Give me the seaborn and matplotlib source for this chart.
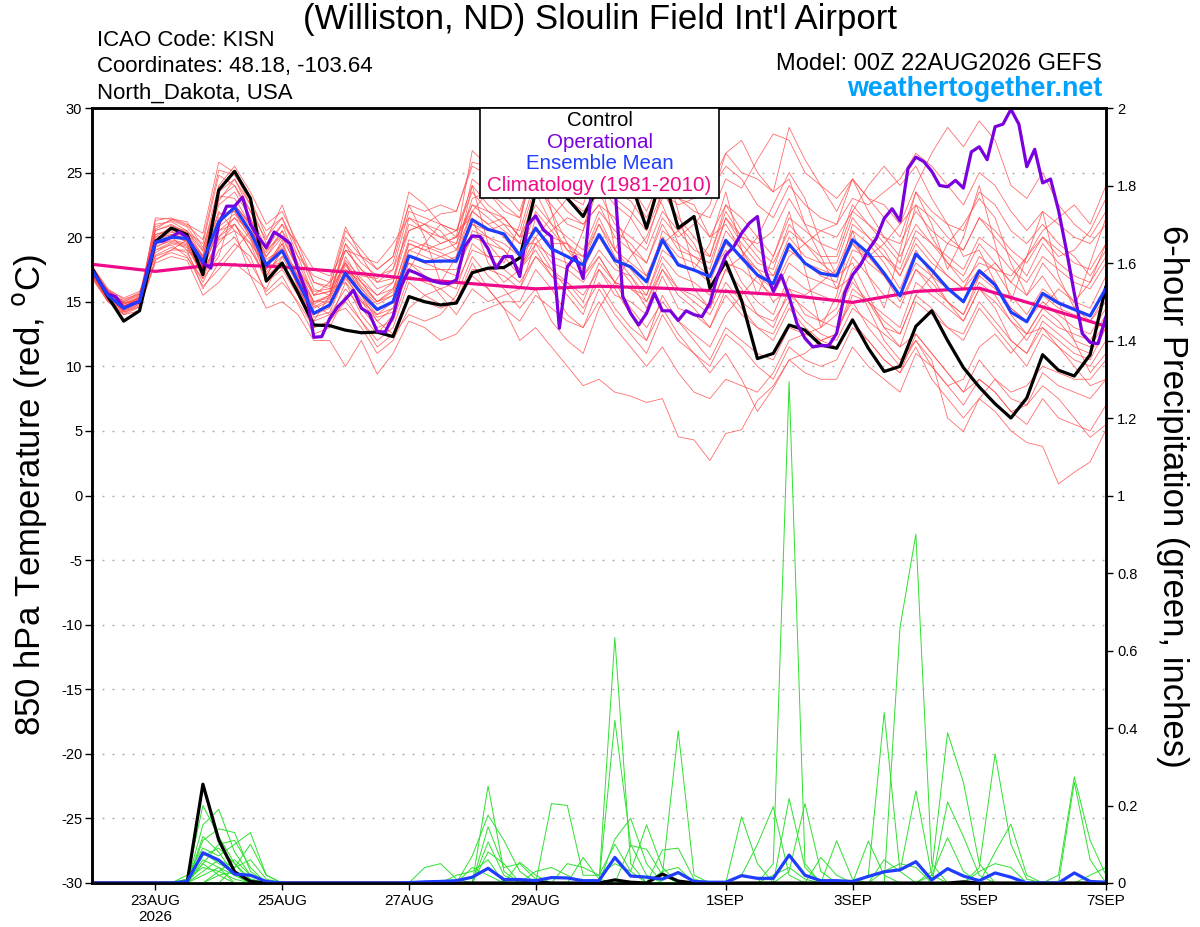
import matplotlib
matplotlib.use("Agg")
import matplotlib.pyplot as plt
import matplotlib.dates as mdates
from matplotlib.patches import Rectangle
import numpy as np
import pandas as pd
import seaborn as sns

sns.set_style("white")
plt.rcParams["font.family"] = ["Liberation Sans", "DejaVu Sans"]
plt.rcParams.update({"text.color": "black", "axes.labelcolor": "black",
                     "xtick.color": "black", "ytick.color": "black"})

# ---------------- text ----------------
TITLE = "(Williston, ND) Sloulin Field Int'l Airport"
INFO_LEFT = ["ICAO Code: KISN", "Coordinates: 48.18, -103.64", "North_Dakota, USA"]
MODEL_TEXT = "Model: 00Z 22AUG2026 GEFS"
SITE_TEXT = "weathertogether.net"
LEGEND_LABELS = ["Control", "Operational", "Ensemble Mean", "Climatology (1981-2010)"]
YLABEL_LEFT = "850 hPa Temperature (red, $^\\mathrm{o}$C)"
YLABEL_RIGHT = "6-hour Precipitation (green, inches)"

RUN_START = "2026-08-22 00:00"
TICK_DATES = ["2026-08-23", "2026-08-25", "2026-08-27", "2026-08-29",
              "2026-09-01", "2026-09-03", "2026-09-05", "2026-09-07"]
TICK_LABELS = ["23AUG\n2026", "25AUG", "27AUG", "29AUG", "1SEP", "3SEP", "5SEP", "7SEP"]
TEMP_TICKS = [-30, -25, -20, -15, -10, -5, 0, 5, 10, 15, 20, 25, 30]
PRECIP_TICKS = [0, 0.2, 0.4, 0.6, 0.8, 1.0, 1.2, 1.4, 1.6, 1.8, 2.0]
PRECIP_TICK_LABELS = ["0", "0.2", "0.4", "0.6", "0.8", "1", "1.2", "1.4", "1.6", "1.8", "2"]

# ---------------- temperature data (6-hourly, 65 steps) ----------------
CONTROL_T = [17.6, 15.4, 13.5, 14.3, 19.65, 20.7, 20.2, 17.1, 23.65, 25.1, 23.0, 16.6,
             18.0, 15.7, 13.2, 13.15, 12.8, 12.6, 12.65, 12.3, 15.4, 15.0, 14.75, 14.9,
             17.25, 17.6, 17.65, 18.4, 23.5, 24.5, 23.0, 21.6, 24.0, 23.5, 24.3, 20.7,
             25.0, 20.7, 21.6, 16.05, 18.1, 15.1, 10.6, 11.0, 13.2, 12.8, 11.65, 11.4,
             13.6, 11.4, 9.6, 10.0, 13.1, 14.3, 12.0, 9.9, 8.4, 7.1, 6.0, 7.55,
             10.9, 9.7, 9.25, 10.9, 16.2]

MEAN_T = [17.45, 15.5, 14.5, 15.05, 19.6, 20.0, 19.9, 18.1, 21.2, 22.3, 20.4, 17.85,
          18.95, 16.55, 14.1, 14.75, 17.2, 15.65, 14.4, 15.0, 18.55, 18.1, 18.15, 18.15,
          21.35, 20.6, 20.25, 18.6, 20.7, 19.1, 18.5, 17.85, 20.2, 18.2, 17.7, 16.55,
          19.8, 17.85, 17.45, 16.95, 19.75, 18.4, 17.07, 16.4, 19.45, 17.98, 17.2, 17.0,
          19.8, 18.75, 17.2, 15.45, 18.7, 17.45, 16.04, 15.0, 17.4, 16.3, 14.2, 13.45,
          15.65, 14.9, 14.4, 13.9, 16.05]

# operational run, 3-hourly (129 steps)
OPER_T = [17.4, 16.5, 15.6, 15.4, 14.5, 14.8, 15.0, 17.5, 19.6, 19.7, 20.0, 20.4,
          20.0, 19.0, 18.0, 17.6, 21.0, 22.4, 22.4, 23.1, 21.0, 20.0, 19.2, 20.4,
          20.0, 19.5, 17.5, 15.8, 12.25, 12.3, 13.7, 14.6, 15.2, 15.9, 14.5, 14.1,
          12.7, 12.65, 13.85, 16.2, 17.45, 17.2, 16.9, 16.6, 16.45, 16.4, 16.7, 19.25,
          20.1, 20.05, 19.1, 17.6, 18.5, 18.5, 16.95, 20.95, 21.65, 20.55, 20.05, 12.95,
          17.7, 18.5, 16.8, 23.4, 25.5, 25.0, 24.0, 15.4, 14.1, 13.2, 14.1, 15.65,
          14.3, 14.3, 13.55, 14.3, 14.0, 13.85, 14.9, 17.07, 18.6, 19.25, 20.3, 21.1,
          21.6, 17.45, 15.8, 17.07, 15.4, 13.3, 12.17, 11.5, 11.6, 11.6, 12.55, 15.65,
          17.07, 17.85, 19.0, 19.9, 21.45, 22.2, 21.25, 25.3, 26.2, 25.85, 25.1, 24.0,
          23.9, 24.4, 23.8, 26.6, 27.0, 26.0, 28.55, 28.75, 29.9, 28.75, 25.45, 26.8,
          24.2, 24.5, 22.1, 19.0, 15.65, 12.55, 11.85, 11.75, 13.85]

# climatology, daily (17 days)
CLIM_T = [17.9, 17.35, 17.9, 17.7, 17.3, 16.8, 16.4, 16.0, 16.2, 16.05, 15.8, 15.5,
          14.95, 15.8, 16.05, 14.6, 13.1]

# ensemble members, 6-hourly
M01 = [17.3, 15.8, 14.9, 15.4, 20.5, 21.0, 20.3, 18.4, 22.8, 24.5, 22.0, 19.0,
       20.1, 17.5, 15.0, 15.3, 18.2, 16.8, 15.5, 16.5, 20.5, 21.0, 21.8, 22.0,
       25.5, 24.8, 23.5, 22.0, 25.8, 24.0, 23.2, 22.5, 26.0, 23.5, 22.8, 21.0,
       25.5, 23.0, 22.0, 21.5, 24.5, 23.8, 26.0, 28.0, 27.5, 25.0, 24.0, 23.0,
       24.5, 23.0, 22.5, 21.0, 24.0, 26.5, 28.5, 27.0, 29.0, 27.5, 24.0, 23.0,
       25.0, 22.5, 21.0, 20.0, 22.0]
M02 = [17.0, 15.2, 14.2, 14.8, 18.8, 19.5, 19.2, 17.0, 20.0, 21.0, 19.5, 16.5,
       17.5, 15.5, 13.0, 13.5, 15.0, 13.5, 12.0, 13.0, 16.5, 15.5, 14.8, 15.0,
       18.0, 16.0, 14.5, 12.0, 13.0, 11.5, 10.0, 8.5, 9.0, 8.0, 7.7, 7.2,
       7.5, 4.55, 4.3, 2.7, 4.8, 5.1, 7.35, 8.5, 10.5, 9.5, 9.0, 9.0,
       11.5, 10.0, 9.0, 8.0, 11.0, 10.0, 8.5, 7.0, 9.0, 8.0, 6.5, 5.5,
       7.5, 6.0, 5.5, 5.0, 7.0]
M03 = [17.6, 15.7, 14.7, 15.2, 19.8, 20.4, 20.0, 18.0, 21.0, 22.5, 20.8, 18.3,
       19.0, 16.8, 14.5, 15.0, 17.0, 15.0, 14.0, 15.0, 18.5, 18.0, 17.5, 17.5,
       20.0, 19.5, 19.0, 17.5, 19.0, 17.0, 16.5, 15.5, 17.5, 15.5, 15.0, 14.0,
       17.0, 14.5, 14.0, 13.0, 16.0, 14.5, 13.0, 12.0, 14.5, 13.0, 12.0, 11.5,
       13.5, 12.0, 10.5, 9.5, 11.5, 9.0, 7.5, 6.0, 7.5, 6.5, 5.0, 4.1,
       3.8, 0.9, 1.8, 2.6, 5.1]
M04 = [17.5, 15.6, 14.4, 15.0, 20.8, 21.3, 20.8, 19.0, 24.0, 25.5, 23.5, 21.0,
       22.0, 19.5, 16.5, 16.0, 20.5, 19.0, 17.5, 18.5, 23.5, 22.5, 21.0, 20.5,
       24.0, 22.5, 21.5, 20.0, 22.5, 21.0, 20.0, 19.0, 22.0, 20.5, 19.5, 18.0,
       21.5, 20.0, 21.0, 22.5, 26.5, 25.0, 24.5, 23.5, 28.5, 26.0, 24.0, 22.0,
       24.5, 22.0, 20.0, 18.5, 21.0, 19.5, 18.0, 17.0, 19.5, 18.0, 16.5, 15.5,
       18.0, 16.5, 15.0, 14.5, 17.0]
M05 = [17.2, 15.4, 14.6, 15.1, 19.2, 19.8, 19.5, 17.5, 19.5, 21.0, 19.0, 16.8,
       18.0, 15.8, 13.5, 14.0, 16.0, 14.5, 13.0, 13.5, 17.0, 16.5, 16.0, 16.5,
       19.0, 18.5, 18.5, 17.0, 21.5, 20.0, 19.5, 18.0, 21.0, 18.5, 17.0, 15.0,
       18.0, 16.0, 15.5, 14.5, 17.5, 16.0, 14.0, 13.0, 16.0, 15.5, 16.5, 17.5,
       20.5, 19.5, 18.0, 16.0, 19.0, 17.0, 15.0, 13.5, 16.0, 14.5, 12.0, 11.0,
       13.0, 12.0, 11.0, 10.5, 13.0]
M06 = [17.4, 15.3, 14.3, 14.9, 21.3, 21.5, 21.0, 20.3, 25.8, 25.0, 22.5, 19.5,
       21.0, 18.0, 15.5, 16.5, 20.8, 18.5, 16.5, 17.5, 22.0, 21.5, 21.0, 20.0,
       26.7, 25.5, 24.0, 23.5, 27.5, 26.0, 25.0, 24.0, 27.0, 24.5, 23.5, 21.5,
       24.0, 21.0, 19.5, 17.0, 19.0, 16.5, 15.0, 14.0, 17.0, 16.0, 15.5, 15.0,
       18.5, 17.0, 15.5, 14.5, 17.5, 16.5, 15.0, 14.0, 17.0, 18.0, 16.5, 18.5,
       20.0, 18.5, 19.0, 20.5, 23.0]
M07 = [17.8, 16.0, 15.2, 15.6, 19.5, 20.0, 19.8, 18.3, 21.8, 22.0, 20.0, 17.5,
       19.5, 16.0, 14.0, 14.5, 18.5, 16.5, 15.0, 15.5, 19.0, 19.5, 19.0, 19.5,
       22.5, 21.5, 20.5, 19.5, 23.5, 21.0, 19.0, 18.5, 21.5, 19.0, 17.5, 16.0,
       20.5, 19.5, 18.5, 18.0, 21.5, 20.0, 18.5, 17.0, 20.0, 18.5, 18.0, 18.0,
       21.5, 20.0, 19.0, 17.0, 20.0, 18.5, 17.0, 16.0, 18.5, 17.5, 15.5, 14.0,
       16.0, 15.0, 14.5, 13.5, 15.5]
M08 = [17.0, 15.0, 14.0, 14.6, 18.0, 18.5, 18.2, 15.5, 16.5, 18.0, 17.0, 14.5,
       15.0, 14.0, 12.0, 12.0, 10.0, 12.0, 9.4, 11.0, 13.5, 13.0, 12.0, 12.5,
       14.0, 14.5, 15.0, 15.0, 17.5, 16.0, 14.0, 13.0, 16.0, 14.0, 12.5, 11.0,
       14.0, 12.0, 11.0, 10.0, 12.5, 11.5, 10.0, 9.0, 11.5, 10.5, 10.0, 10.5,
       13.0, 12.0, 10.5, 9.5, 12.5, 11.0, 9.5, 8.0, 10.5, 9.0, 7.5, 7.0,
       9.5, 8.5, 8.0, 7.5, 9.0]
M09 = [17.3, 15.5, 14.8, 15.3, 20.2, 20.6, 20.0, 18.6, 22.5, 23.5, 21.5, 18.0,
       19.5, 17.0, 14.8, 15.5, 18.0, 16.0, 14.5, 15.0, 19.5, 19.0, 18.5, 18.0,
       21.0, 20.5, 21.0, 19.5, 19.5, 18.5, 18.0, 17.0, 19.0, 17.5, 17.0, 15.5,
       18.5, 17.0, 16.5, 15.5, 18.0, 17.5, 16.5, 15.5, 18.0, 17.0, 16.5, 16.0,
       19.0, 18.5, 18.5, 17.5, 20.5, 19.5, 18.5, 17.5, 20.0, 19.0, 17.5, 16.5,
       18.5, 17.5, 16.5, 16.0, 18.0]
M10 = [17.1, 15.9, 15.3, 15.8, 18.5, 19.0, 19.0, 17.8, 20.5, 21.5, 20.5, 18.5,
       20.0, 17.5, 15.5, 15.8, 19.0, 17.5, 16.5, 16.8, 21.0, 20.5, 20.0, 20.5,
       23.5, 22.0, 21.5, 20.0, 24.0, 22.5, 21.0, 20.5, 24.0, 22.5, 21.5, 19.5,
       23.5, 21.5, 20.0, 18.5, 22.0, 20.0, 19.5, 20.5, 23.0, 21.0, 20.5, 21.0,
       24.5, 23.0, 21.5, 20.0, 23.5, 22.0, 21.0, 20.5, 23.5, 22.5, 20.5, 19.5,
       21.0, 19.5, 18.5, 17.0, 19.0]
M11 = [17.6, 15.4, 14.5, 15.0, 19.0, 19.6, 19.3, 17.2, 20.0, 21.5, 19.8, 17.0,
       18.0, 16.0, 13.8, 14.2, 17.0, 15.5, 14.0, 14.5, 18.0, 17.5, 17.5, 17.0,
       20.5, 20.0, 19.5, 18.5, 20.0, 18.0, 17.5, 16.5, 18.5, 16.5, 16.0, 15.0,
       17.5, 16.0, 15.0, 14.0, 16.5, 15.0, 14.0, 13.5, 15.5, 14.5, 13.5, 13.0,
       15.0, 13.0, 11.5, 10.0, 12.0, 10.5, 6.0, 4.95, 7.5, 9.0, 8.0, 8.5,
       10.0, 9.5, 9.0, 9.0, 10.5]
M12 = [17.4, 15.6, 14.9, 15.2, 20.0, 20.8, 20.5, 18.9, 23.0, 24.0, 22.0, 19.8,
       22.5, 19.0, 16.0, 15.5, 19.5, 18.0, 17.0, 17.5, 20.5, 21.0, 20.5, 19.0,
       22.0, 21.0, 21.5, 20.0, 20.5, 19.5, 19.5, 18.5, 21.0, 19.0, 18.0, 17.0,
       20.0, 18.5, 18.0, 17.0, 20.5, 19.0, 17.5, 16.0, 19.5, 18.0, 17.0, 16.5,
       21.0, 20.0, 18.5, 17.0, 19.5, 18.0, 17.0, 16.0, 17.5, 16.5, 14.5, 13.5,
       15.0, 14.0, 13.0, 12.5, 14.5]
M13 = [17.2, 15.1, 14.1, 14.7, 19.5, 20.0, 19.0, 16.0, 18.0, 19.5, 18.5, 15.5,
       16.5, 15.0, 13.0, 13.5, 16.5, 15.0, 13.5, 14.5, 18.5, 18.0, 18.5, 19.0,
       23.0, 23.5, 22.0, 21.5, 25.5, 24.5, 25.0, 26.5, 28.0, 25.5, 24.0, 22.0,
       25.0, 23.0, 22.5, 20.0, 22.5, 20.5, 19.0, 18.0, 20.5, 19.5, 18.0, 17.0,
       19.5, 18.0, 17.0, 15.0, 17.5, 16.0, 15.0, 14.0, 16.5, 15.5, 13.5, 12.5,
       14.5, 13.5, 12.0, 11.5, 13.5]
M14 = [16.8, 15.0, 14.5, 15.4, 19.8, 20.2, 19.6, 17.8, 21.5, 22.0, 20.0, 17.0,
       19.0, 16.5, 14.0, 14.8, 17.5, 16.0, 14.8, 15.5, 19.0, 18.5, 18.0, 18.5,
       22.0, 21.0, 20.0, 18.5, 22.0, 20.5, 19.0, 17.5, 20.0, 18.0, 16.5, 14.5,
       17.5, 15.5, 14.5, 13.0, 15.5, 14.0, 13.0, 12.5, 15.0, 13.5, 12.5, 12.0,
       14.5, 13.5, 12.5, 11.5, 15.0, 14.0, 13.0, 12.0, 14.5, 13.0, 11.5, 10.0,
       12.5, 11.5, 10.5, 10.0, 12.0]
M15 = [17.5, 15.8, 15.0, 15.5, 21.0, 21.2, 20.5, 18.5, 23.5, 24.5, 22.5, 20.5,
       21.5, 18.5, 15.5, 15.8, 18.0, 16.5, 15.0, 16.0, 19.5, 19.0, 19.5, 20.0,
       22.5, 22.0, 21.0, 20.5, 24.5, 23.5, 22.0, 21.0, 22.5, 20.0, 19.0, 18.0,
       21.0, 19.0, 18.5, 17.5, 21.5, 19.5, 18.0, 17.5, 21.0, 19.5, 18.5, 18.5,
       22.0, 21.0, 19.5, 18.0, 22.5, 21.5, 20.0, 19.0, 21.5, 20.0, 18.5, 17.0,
       19.5, 18.0, 17.0, 16.5, 18.5]
M16 = [17.0, 15.2, 14.3, 14.8, 18.6, 19.2, 18.8, 16.5, 19.0, 20.0, 18.0, 15.8,
       17.0, 14.8, 12.5, 13.0, 15.5, 13.5, 11.5, 12.5, 15.5, 15.0, 14.5, 15.0,
       17.5, 17.5, 17.0, 16.0, 18.5, 17.0, 15.5, 14.0, 17.5, 16.0, 14.0, 12.0,
       15.5, 13.5, 12.0, 10.5, 13.0, 12.0, 11.0, 10.5, 13.0, 12.5, 12.0, 12.5,
       16.0, 15.0, 13.5, 12.5, 15.5, 14.5, 13.0, 12.5, 15.0, 13.5, 12.0, 11.0,
       13.5, 12.5, 11.5, 11.0, 13.0]
M17 = [17.6, 15.7, 14.8, 15.3, 20.5, 20.9, 20.4, 19.5, 24.8, 24.0, 21.5, 18.5,
       20.5, 17.5, 15.0, 15.5, 19.0, 17.5, 16.0, 16.5, 21.5, 21.0, 20.0, 19.5,
       24.5, 23.5, 22.5, 21.5, 26.5, 25.0, 24.0, 23.0, 25.5, 23.0, 22.0, 20.5,
       23.5, 22.5, 23.0, 23.5, 25.5, 24.5, 22.5, 21.5, 24.0, 22.5, 21.5, 21.0,
       23.0, 22.5, 23.5, 24.5, 26.5, 25.5, 24.0, 22.5, 25.0, 24.0, 22.0, 20.5,
       22.0, 21.0, 20.0, 19.5, 21.0]
M18 = [17.3, 15.3, 14.6, 15.2, 19.3, 19.7, 19.4, 17.4, 20.8, 21.8, 20.3, 17.3,
       18.5, 16.3, 14.2, 14.6, 16.8, 15.2, 13.8, 14.2, 17.5, 17.0, 16.5, 16.0,
       19.5, 18.5, 17.5, 16.5, 18.5, 17.5, 16.5, 15.0, 18.0, 16.5, 16.0, 15.5,
       19.0, 18.0, 17.5, 16.5, 19.5, 18.5, 17.5, 17.0, 19.0, 18.0, 17.5, 17.0,
       19.5, 18.5, 17.0, 15.5, 18.0, 17.0, 16.0, 15.0, 17.0, 16.0, 14.5, 13.5,
       15.5, 14.5, 14.0, 13.5, 15.0]
M19 = [17.7, 15.9, 15.0, 15.6, 20.0, 20.2, 19.9, 17.9, 21.0, 22.5, 21.0, 18.0,
       19.2, 16.8, 14.6, 15.2, 17.8, 16.2, 15.0, 15.8, 19.8, 19.3, 18.8, 18.2,
       21.0, 20.0, 19.0, 17.5, 19.5, 17.5, 16.0, 14.5, 16.5, 14.5, 13.0, 12.0,
       14.5, 12.5, 11.0, 9.5, 11.0, 9.0, 6.5, 8.3, 10.5, 11.0, 12.0, 12.5,
       15.5, 15.0, 14.0, 13.0, 16.5, 15.5, 14.5, 13.5, 16.0, 15.0, 13.5, 12.0,
       14.0, 13.0, 12.5, 12.0, 14.0]
M20 = [16.9, 15.1, 14.4, 15.0, 21.5, 21.4, 20.9, 19.8, 25.2, 24.8, 23.0, 20.0,
       21.5, 19.0, 16.5, 16.2, 20.0, 18.5, 17.5, 18.5, 22.5, 22.0, 22.5, 22.0,
       25.8, 25.5, 23.0, 24.5, 27.0, 25.0, 26.0, 25.0, 23.5, 21.0, 20.0, 19.0,
       22.0, 20.5, 19.0, 18.5, 22.5, 21.5, 20.0, 18.5, 21.5, 20.5, 19.5, 19.0,
       22.5, 21.0, 20.0, 19.5, 22.0, 20.5, 19.5, 19.0, 21.5, 20.5, 19.0, 18.0,
       20.0, 19.0, 18.0, 17.5, 19.5]
M21 = [17.2, 15.6, 14.7, 15.0, 20.2, 20.5, 19.6, 16.8, 18.5, 22.5, 21.0, 17.5,
       19.8, 16.2, 13.5, 15.5, 19.5, 17.0, 16.8, 18.0, 22.5, 20.0, 16.5, 18.5,
       24.0, 19.5, 18.0, 21.0, 27.0, 22.0, 17.5, 20.5, 25.5, 19.0, 21.5, 24.5,
       26.5, 22.0, 17.5, 19.5, 23.5, 19.0, 15.5, 18.5, 22.0, 17.5, 13.0, 15.5,
       20.5, 17.0, 14.5, 19.0, 23.5, 21.0, 17.5, 20.0, 24.0, 19.5, 15.0, 18.5,
       22.0, 17.0, 14.5, 18.0, 21.5]
M22 = [17.5, 15.5, 14.2, 14.6, 18.2, 19.0, 19.8, 18.5, 22.0, 20.5, 17.0, 16.0,
       18.5, 17.5, 15.8, 16.0, 16.5, 14.0, 12.5, 14.0, 17.5, 19.5, 21.0, 20.5,
       21.5, 18.0, 16.5, 17.5, 20.0, 21.5, 23.0, 22.0, 23.5, 25.5, 27.0, 24.5,
       22.5, 19.5, 16.0, 14.5, 17.5, 18.5, 20.0, 22.5, 25.0, 23.0, 19.5, 17.0,
       18.0, 15.5, 13.0, 12.5, 15.5, 17.0, 19.5, 21.0, 23.0, 21.5, 18.0, 15.5,
       17.0, 15.0, 12.0, 9.5, 11.0]
M23 = [17.0, 15.7, 15.1, 15.7, 19.0, 19.4, 18.5, 16.2, 17.5, 19.0, 20.5, 18.8,
       20.5, 18.5, 17.0, 16.5, 18.0, 15.5, 13.5, 12.5, 14.0, 13.5, 14.0, 15.5,
       18.5, 17.0, 16.0, 14.5, 16.0, 13.5, 12.0, 11.0, 14.5, 16.5, 18.5, 20.0,
       23.0, 24.5, 26.0, 24.0, 26.5, 27.5, 25.0, 23.5, 24.5, 21.0, 18.5, 16.0,
       17.0, 14.5, 12.0, 10.5, 12.0, 10.0, 8.5, 9.0, 11.5, 12.5, 11.0, 12.5,
       14.5, 16.0, 15.0, 16.5, 19.5]
M24 = [17.7, 15.9, 14.9, 15.1, 20.6, 21.4, 21.2, 19.2, 23.2, 23.0, 21.0, 19.0,
       21.0, 19.5, 17.5, 17.0, 19.0, 18.5, 18.0, 19.5, 21.5, 20.5, 19.5, 20.0,
       22.0, 23.5, 24.5, 23.0, 24.5, 22.0, 19.5, 17.0, 18.5, 16.5, 14.5, 13.0,
       15.0, 13.5, 12.5, 11.5, 14.0, 15.5, 17.0, 16.0, 18.5, 19.5, 20.5, 20.0,
       22.0, 24.0, 25.5, 24.0, 25.5, 23.0, 21.0, 18.5, 19.0, 16.5, 14.0, 12.5,
       13.0, 11.5, 10.0, 8.5, 9.0]
M25 = [17.1, 15.3, 14.6, 15.4, 19.6, 20.1, 19.7, 17.6, 20.5, 21.0, 19.0, 17.0,
       19.0, 17.0, 15.0, 15.0, 17.5, 16.5, 15.5, 16.0, 18.0, 17.0, 15.5, 14.0,
       16.0, 15.0, 15.5, 16.0, 19.5, 20.5, 21.5, 21.0, 22.5, 21.5, 19.0, 17.0,
       19.5, 20.5, 21.5, 20.0, 21.0, 19.0, 17.0, 15.0, 16.0, 14.0, 13.5, 14.5,
       17.5, 18.5, 19.5, 21.0, 22.5, 20.0, 18.0, 16.5, 18.0, 17.5, 17.0, 18.5,
       20.5, 21.5, 22.5, 21.0, 24.0]
M26 = [17.4, 15.2, 14.0, 14.3, 18.3, 18.8, 18.4, 16.8, 19.8, 20.5, 19.5, 17.8,
       18.0, 15.8, 14.8, 14.0, 14.5, 13.0, 11.0, 12.0, 14.5, 15.5, 16.0, 15.0,
       17.0, 16.0, 14.5, 13.5, 15.5, 14.5, 13.5, 13.0, 15.0, 13.0, 11.5, 10.0,
       11.5, 9.5, 8.0, 7.5, 9.0, 8.5, 8.0, 9.5, 12.0, 12.5, 13.0, 14.0,
       16.5, 15.0, 13.0, 11.5, 12.5, 11.0, 9.5, 8.0, 9.0, 8.0, 6.5, 7.0,
       8.5, 7.5, 6.0, 4.5, 5.5]
MEMBERS_T = [M01, M02, M03, M04, M05, M06, M07, M08, M09, M10, M11, M12, M13,
             M14, M15, M16, M17, M18, M19, M20, M21, M22, M23, M24, M25, M26]

# ---------------- precipitation (inches per 6 h; step index -> value) ----------------
CONTROL_P = {7: 0.255, 8: 0.111, 9: 0.029, 10: 0.004, 28: 0.003, 33: 0.008, 34: 0.002,
             36: 0.023, 37: 0.005, 55: 0.003}
MEAN_P = {6: 0.004, 7: 0.078, 8: 0.059, 9: 0.023, 10: 0.02, 11: 0.004, 20: 0.001,
          21: 0.003, 22: 0.004, 23: 0.006, 24: 0.015, 25: 0.038, 26: 0.009, 27: 0.009,
          28: 0.006, 29: 0.014, 30: 0.013, 31: 0.006, 32: 0.006, 33: 0.066, 34: 0.018,
          35: 0.015, 36: 0.01, 37: 0.027, 38: 0.004, 39: 0.002, 40: 0.002, 41: 0.019,
          42: 0.012, 43: 0.012, 44: 0.072, 45: 0.02, 46: 0.006, 47: 0.006, 48: 0.004,
          49: 0.017, 50: 0.029, 51: 0.034, 52: 0.055, 53: 0.008, 54: 0.037, 55: 0.018,
          56: 0.006, 57: 0.026, 58: 0.015, 62: 0.026, 63: 0.004, 64: 0.002}
P01 = {6: 0.01, 7: 0.20, 8: 0.12, 9: 0.05, 10: 0.01, 21: 0.04, 22: 0.05, 23: 0.01,
       25: 0.25, 26: 0.03, 33: 0.633, 34: 0.05, 41: 0.171, 42: 0.05}
P02 = {7: 0.15, 8: 0.19, 9: 0.08, 10: 0.02, 24: 0.07, 25: 0.175, 26: 0.11, 27: 0.03,
       33: 0.42, 34: 0.10, 35: 0.02, 43: 0.02, 44: 0.04, 45: 0.01}
P03 = {7: 0.11, 8: 0.14, 9: 0.13, 10: 0.03, 25: 0.145, 26: 0.04, 27: 0.05, 28: 0.01,
       33: 0.113, 34: 0.167, 35: 0.05, 49: 0.108, 50: 0.02}
P04 = {6: 0.02, 7: 0.09, 8: 0.07, 9: 0.10, 10: 0.13, 11: 0.02, 25: 0.106, 26: 0.02,
       29: 0.205, 30: 0.20, 31: 0.02, 32: 0.02, 33: 0.10, 34: 0.03, 35: 0.15, 36: 0.04,
       49: 0.02, 50: 0.44, 51: 0.03}
P05 = {7: 0.06, 8: 0.04, 9: 0.02, 23: 0.02, 24: 0.03, 25: 0.06, 27: 0.054, 28: 0.02,
       31: 0.066, 32: 0.01, 34: 0.097, 35: 0.087, 36: 0.02, 51: 0.66, 52: 0.90, 53: 0.05}
P06 = {7: 0.05, 8: 0.10, 9: 0.11, 10: 0.04, 24: 0.04, 25: 0.02, 28: 0.03, 29: 0.04,
       30: 0.02, 36: 0.085, 37: 0.09, 38: 0.01, 50: 0.06, 51: 0.03, 52: 0.238, 53: 0.02}
P07 = {7: 0.08, 8: 0.05, 9: 0.03, 10: 0.01, 25: 0.08, 26: 0.05, 36: 0.02, 37: 0.393,
       38: 0.02, 53: 0.03, 54: 0.388, 55: 0.26, 56: 0.05}
P08 = {7: 0.03, 8: 0.06, 9: 0.04, 10: 0.10, 11: 0.02, 30: 0.05, 31: 0.04, 32: 0.02,
       33: 0.05, 34: 0.03, 36: 0.03, 37: 0.04, 54: 0.209, 55: 0.12, 56: 0.02}
P09 = {7: 0.12, 8: 0.08, 9: 0.02, 41: 0.02, 42: 0.10, 43: 0.197, 44: 0.02, 53: 0.02,
       54: 0.117, 55: 0.03}
P10 = {6: 0.01, 7: 0.04, 8: 0.03, 9: 0.01, 43: 0.05, 44: 1.294, 45: 0.05}
P11 = {8: 0.02, 9: 0.03, 44: 0.218, 45: 0.04, 56: 0.04, 57: 0.333, 58: 0.10, 59: 0.01}
P12 = {7: 0.02, 8: 0.04, 44: 0.03, 45: 0.205, 46: 0.03, 57: 0.08, 58: 0.152, 59: 0.02}
P13 = {8: 0.03, 9: 0.06, 10: 0.02, 46: 0.066, 47: 0.02, 56: 0.03, 57: 0.05, 58: 0.04}
P14 = {7: 0.05, 8: 0.02, 47: 0.109, 48: 0.01, 61: 0.02, 62: 0.274, 63: 0.11, 64: 0.02}
P15 = {9: 0.04, 10: 0.06, 11: 0.01, 50: 0.03, 51: 0.05, 52: 0.04, 62: 0.26, 63: 0.06}
P16 = {7: 0.07, 8: 0.09, 9: 0.05, 63: 0.02, 64: 0.04}
MEMBERS_P = [P01, P02, P03, P04, P05, P06, P07, P08, P09, P10, P11, P12, P13, P14, P15, P16]

# ---------------- build frames ----------------
N6 = len(CONTROL_T)
t6 = pd.date_range(RUN_START, periods=N6, freq="6h")
t3 = pd.date_range(RUN_START, periods=len(OPER_T), freq="3h")
tday = pd.date_range(RUN_START, periods=len(CLIM_T), freq="D")

df_mem = pd.DataFrame({
    "time": np.tile(t6, len(MEMBERS_T)),
    "member": np.repeat(np.arange(len(MEMBERS_T)), N6),
    "temp": np.concatenate([np.asarray(m, float) for m in MEMBERS_T]),
})
df_pmem = pd.DataFrame({
    "time": np.tile(t6, len(MEMBERS_P)),
    "member": np.repeat(np.arange(len(MEMBERS_P)), N6),
    "precip": np.concatenate([[p.get(i, 0.0) for i in range(N6)] for p in MEMBERS_P]),
})
ctrl_p = [CONTROL_P.get(i, 0.0) for i in range(N6)]
mean_p = [MEAN_P.get(i, 0.0) for i in range(N6)]

# ---------------- styles ----------------
C_RED = "#ff4a4a"
C_GREEN = "#2ee02e"
C_CTRL = "#000000"
C_OPER = "#7a00dd"
C_MEAN = "#1f3dff"
C_CLIM = "#ee0a88"
C_SITE = "#00a0ff"
LW_THICK = 2.3

W, H = 1200, 927
fig = plt.figure(figsize=(W / 100, H / 100), dpi=100)
L, R, T, B = 92, 1106, 108, 883
ax = fig.add_axes([L / W, 1 - B / H, (R - L) / W, (B - T) / H])

sns.lineplot(data=df_mem, x="time", y="temp", units="member", estimator=None,
             color=C_RED, lw=0.6, alpha=0.8, ax=ax, legend=False)
sns.lineplot(x=tday, y=CLIM_T, color=C_CLIM, lw=LW_THICK, ax=ax)
sns.lineplot(x=t6, y=CONTROL_T, color=C_CTRL, lw=LW_THICK, ax=ax)
sns.lineplot(x=t3, y=OPER_T, color=C_OPER, lw=LW_THICK, ax=ax)
sns.lineplot(x=t6, y=MEAN_T, color=C_MEAN, lw=LW_THICK, ax=ax)

ax.set_xlim(t6[0], t6[-1])
ax.set_ylim(-30, 30)
ax.set_yticks(TEMP_TICKS)
ax.set_yticklabels([str(v) for v in TEMP_TICKS])
ax.set_xticks(mdates.date2num(pd.to_datetime(TICK_DATES)))
ax.set_xticklabels(TICK_LABELS)
ax.set_xlabel("")
ax.set_ylabel("")
ax.yaxis.grid(True, linestyle=(0, (1.4, 5.8)), color="#a8a8a8", lw=1.0)
ax.xaxis.grid(False)
ax.tick_params(axis="y", left=True, right=False, direction="out", length=5, width=1,
               labelsize=10.5, pad=2, colors="black")
ax.tick_params(axis="x", bottom=True, top=False, direction="out", length=5, width=1,
               labelsize=11, pad=3, colors="black")
for sp in ax.spines.values():
    sp.set_linewidth(1.8)
    sp.set_color("black")

ax2 = ax.twinx()
sns.lineplot(data=df_pmem, x="time", y="precip", units="member", estimator=None,
             color=C_GREEN, lw=0.7, ax=ax2, legend=False)
sns.lineplot(x=t6, y=ctrl_p, color=C_CTRL, lw=LW_THICK, ax=ax2)
sns.lineplot(x=t6, y=mean_p, color=C_MEAN, lw=LW_THICK, ax=ax2)
ax2.set_xlim(t6[0], t6[-1])
ax2.set_ylim(0, 2)
ax2.set_yticks(PRECIP_TICKS)
ax2.set_yticklabels(PRECIP_TICK_LABELS)
ax2.set_ylabel("")
ax2.set_xlabel("")
ax2.grid(False)
ax2.tick_params(axis="y", right=True, left=False, direction="out", length=5, width=1,
                labelsize=10.5, pad=3, colors="black")
for sp in ax2.spines.values():
    sp.set_linewidth(1.8)
    sp.set_color("black")

# legend box (drawn on the top axes)
lx0, lx1, ly0 = 480, 719, 198
ax2.add_patch(Rectangle(((lx0 - L) / (R - L), (B - ly0) / (B - T)),
                        (lx1 - lx0) / (R - L), (ly0 - T) / (B - T),
                        transform=ax2.transAxes, facecolor="white", edgecolor="black",
                        lw=1.2, zorder=10, clip_on=False))
leg_colors = [C_CTRL, C_OPER, C_MEAN, C_CLIM]
leg_y = [120, 142, 163, 185]
for lab, col, yy in zip(LEGEND_LABELS, leg_colors, leg_y):
    ax2.text(((lx0 + lx1) / 2 - L) / (R - L), (B - yy) / (B - T), lab, color=col,
             ha="center", va="center", fontsize=14.8, transform=ax2.transAxes, zorder=11)

# header texts
fig.text(0.5, 1 - 19 / H, TITLE, ha="center", va="center", fontsize=25, color="black")
for k, s in enumerate(INFO_LEFT):
    fig.text(97 / W, 1 - (40 + 26.5 * k) / H, s, ha="left", va="center", fontsize=16,
             color="black")
fig.text(1102 / W, 1 - 64 / H, MODEL_TEXT, ha="right", va="center", fontsize=17,
         color="black")
fig.text(1102 / W, 1 - 89 / H, SITE_TEXT, ha="right", va="center", fontsize=19.4,
         fontweight="bold", color=C_SITE)
fig.text(30 / W, 1 - 495 / H, YLABEL_LEFT, ha="center", va="center", rotation=90,
         fontsize=25, color="black")
fig.text(1172 / W, 1 - 496 / H, YLABEL_RIGHT, ha="center", va="center", rotation=270,
         fontsize=25, color="black")

fig.savefig("out.png", dpi=100, facecolor="white")
